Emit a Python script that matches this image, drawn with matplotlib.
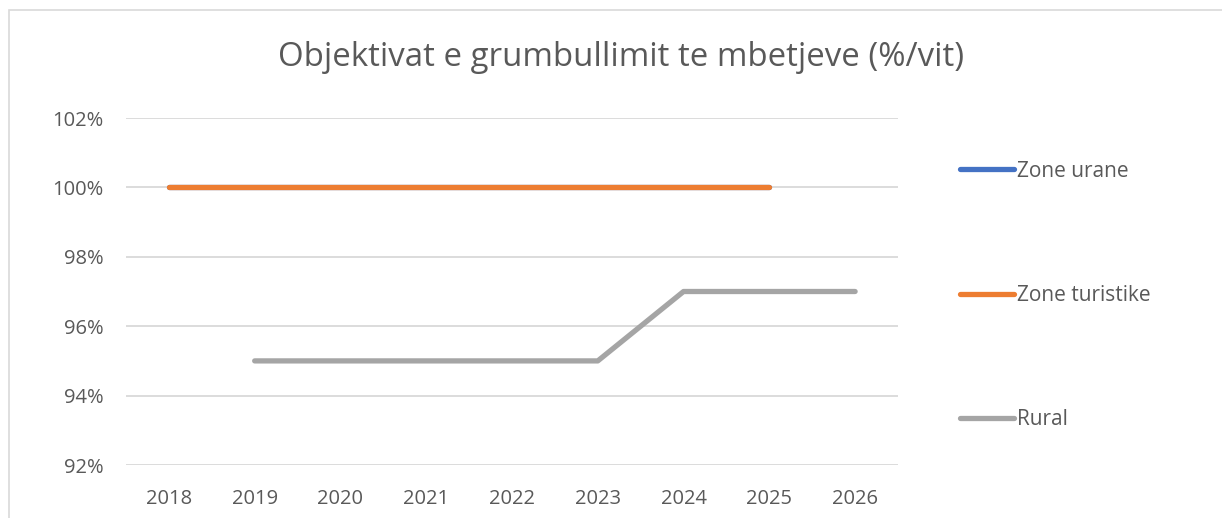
import numpy as np
import matplotlib.pyplot as plt
from matplotlib.patches import Rectangle

plt.rcParams['font.family'] = ['Open Sans', 'DejaVu Sans']

years = ['2018', '2019', '2020', '2021', '2022', '2023', '2024', '2025', '2026']
zone_urane = [1.00, 1.00, 1.00, 1.00, 1.00, 1.00, 1.00, 1.00, np.nan]
zone_turistike = [1.00, 1.00, 1.00, 1.00, 1.00, 1.00, 1.00, 1.00, np.nan]
rural = [np.nan, 0.95, 0.95, 0.95, 0.95, 0.95, 0.97, 0.97, 0.97]
yticks = [0.92, 0.94, 0.96, 0.98, 1.00, 1.02]

txt = '#595959'
grid = '#D9D9D9'

fig = plt.figure(figsize=(12.22, 5.18), dpi=100)
# outer chart frame
fig.patches.append(Rectangle((9 / 1222, -0.01), 1.0, 1 - 10 / 518 + 0.01,
                             transform=fig.transFigure, fill=False,
                             edgecolor='#D9D9D9', linewidth=1.2))

ax = fig.add_axes([126 / 1222, 1 - 465 / 518, 772 / 1222, 347 / 518])
x = np.arange(len(years))

ax.plot(x, zone_urane, color='#4472C4', lw=3.8, solid_capstyle='round', label='Zone urane')
ax.plot(x, zone_turistike, color='#ED7D31', lw=3.8, solid_capstyle='round', label='Zone turistike')
ax.plot(x, rural, color='#A5A5A5', lw=3.8, solid_capstyle='round', label='Rural')

ax.set_xlim(-0.5, len(years) - 0.5)
ax.set_ylim(0.92, 1.02)
ax.set_yticks(yticks)
ax.set_yticklabels([f'{v * 100:.0f}%' for v in yticks])
ax.set_xticks(x)
ax.set_xticklabels(years)
ax.tick_params(length=0, labelsize=14.5, colors=txt)
ax.tick_params(axis='x', pad=17)
ax.tick_params(axis='y', pad=16)
ax.grid(axis='y', color=grid, lw=1.3)
ax.set_axisbelow(True)
for s in ax.spines.values():
    s.set_visible(False)

fig.text(621 / 1222, 1 - 58 / 518, 'Objektivat e grumbullimit te mbetjeve (%/vit)',
         ha='center', va='center', fontsize=23.8, color=txt)

leg = fig.legend(loc='upper left', bbox_to_anchor=(941 / 1222, 1 - 142 / 518),
                 frameon=False, fontsize=15, labelspacing=4.95, handlelength=2.6,
                 handletextpad=0.15, labelcolor=txt)

plt.savefig('out.png', dpi=100)
